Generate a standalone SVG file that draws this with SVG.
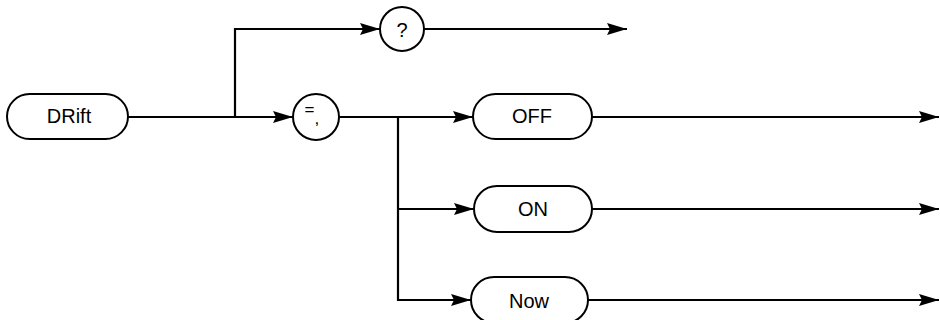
<svg xmlns="http://www.w3.org/2000/svg" width="940" height="320" viewBox="0 0 940 320">
<defs>
<marker id="arr" markerUnits="userSpaceOnUse" markerWidth="20" markerHeight="12" refX="20" refY="6" orient="auto" overflow="visible">
<path d="M0,0 L20,6 L0,12 L3,6 z" fill="#000"/>
</marker>
<style>
.shape{fill:#fff;stroke:#000;stroke-width:2}
.lbl{font-family:"Liberation Sans",Arial,sans-serif;font-size:20px;fill:#000;text-anchor:middle}
.sym{font-family:"Liberation Sans",Arial,sans-serif;font-size:17px;fill:#000;text-anchor:start}
.line{fill:none;stroke:#000;stroke-width:2.2}
</style>
</defs>
<rect width="940" height="320" fill="#fff"/>
<g id="connectors">
<path class="line" d="M128,117 H293" marker-end="url(#arr)"/>
<path class="line" d="M235,117 V29 H380" marker-end="url(#arr)"/>
<path class="line" d="M424,29 H627" marker-end="url(#arr)"/>
<path class="line" d="M339,117 H473" marker-end="url(#arr)"/>
<path class="line" d="M398,117 V300 H471" marker-end="url(#arr)"/>
<path class="line" d="M398,209 H474" marker-end="url(#arr)"/>
<path class="line" d="M592,117 H939" marker-end="url(#arr)"/>
<path class="line" d="M592,209 H939" marker-end="url(#arr)"/>
<path class="line" d="M588,300 H939" marker-end="url(#arr)"/>
</g>
<g id="drift">
<rect class="shape" x="7" y="94" width="121" height="45" rx="22.5"/>
<text class="lbl" x="69" y="123">DRift</text>
</g>
<g id="query">
<circle class="shape" cx="402" cy="29" r="22"/>
<text class="lbl" x="402" y="37">?</text>
</g>
<g id="sep">
<circle class="shape" cx="316" cy="117" r="23"/>
<text class="sym" x="304.5" y="115">=</text>
<text class="sym" x="314.6" y="124">,</text>
</g>
<g id="off">
<rect class="shape" x="473" y="94" width="119" height="45" rx="22.5"/>
<text class="lbl" x="532" y="123">OFF</text>
</g>
<g id="on">
<rect class="shape" x="474" y="186" width="118" height="46" rx="23"/>
<text class="lbl" x="533" y="216">ON</text>
</g>
<g id="now">
<rect class="shape" x="471" y="277" width="117" height="46" rx="23"/>
<text class="lbl" x="529" y="308">Now</text>
</g>
</svg>
